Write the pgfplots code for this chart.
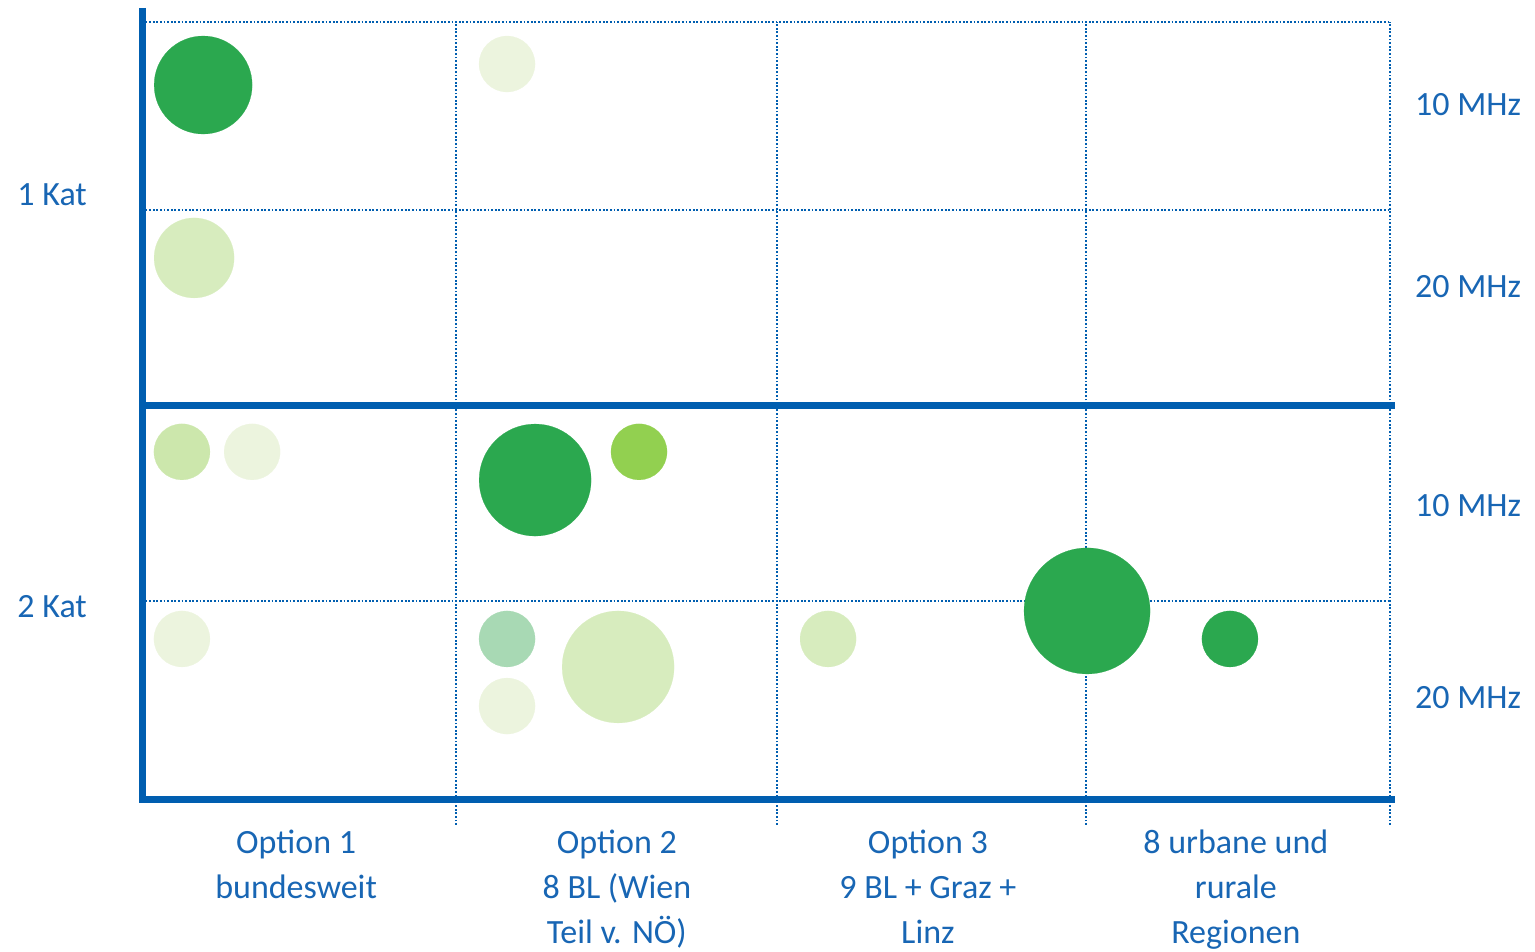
\documentclass[border=0pt]{standalone}
\usepackage{pgfplots}
\pgfplotsset{compat=1.18}
\usepackage{fontspec}
\setmainfont{Carlito}

\definecolor{kblue}{RGB}{0,94,176}
\definecolor{ktext}{RGB}{24,102,180}
\definecolor{dgreen}{RGB}{43,168,79}
\definecolor{lgreen}{RGB}{146,208,80}
\definecolor{pale}{RGB}{236,244,222}
\definecolor{light}{RGB}{215,236,190}
\definecolor{medium}{RGB}{204,231,172}
\definecolor{teal}{RGB}{168,217,180}

\pgfplotsset{
  bubble/.style={only marks, scatter, mark=*,
    scatter/use mapped color={draw=#1, fill=#1, line width=0.1pt},
    visualization depends on={\thisrow{r} \as \rad},
    scatter/@pre marker code/.append style={/tikz/mark size=\rad pt},
    mark options={draw=#1, fill=#1, line width=0.1pt}},
}
\tikzset{lab/.style={font=\fontsize{17}{22.5}\selectfont, text=ktext, inner sep=0pt}}

\begin{document}
\begin{tikzpicture}
\begin{axis}[
  at={(71pt,76pt)}, anchor=south west,
  scale only axis, width=624pt, height=389pt,
  xmin=0, xmax=4, ymin=0, ymax=4,
  clip=false,
  axis line style={draw=none},
  xtick={1.006,2.035,3.026,4}, ytick={1.023,3.033,4},
  xticklabels={,,,}, yticklabels={,,},
  xtick pos=lower, xtick align=outside, major tick length=12.5pt,
  x tick style={kblue, line width=0.9pt, dash pattern=on 0.9pt off 0.9pt},
  y tick style={draw=none},
  grid=major,
  major grid style={kblue, line width=0.9pt, dash pattern=on 0.9pt off 0.9pt},
]

% dark green, solid
\addplot[bubble=dgreen] table {
x     y     r
0.196 3.676 24.5
1.260 1.645 28
3.029 0.972 31.5
3.487 0.828 14
};
% light green, solid
\addplot[bubble=lgreen] table {
x     y     r
1.593 1.790 14
};
% very light, patterned
\addplot[bubble=pale] table {
x     y     r
1.170 3.784 14
0.353 1.790 14
0.128 0.828 14
1.170 0.483 14
};
% light, patterned
\addplot[bubble=light] table {
x     y     r
0.167 2.787 20
1.526 0.684 28
2.199 0.828 14
};
\addplot[bubble=medium] table {
x     y     r
0.128 1.790 14
};
\addplot[bubble=teal] table {
x     y     r
1.170 0.828 14
};

% thick frame lines
\draw[kblue, line width=3.5pt] (axis cs:0,4.072) -- (axis cs:0,0) -- (axis cs:4.016,0);
\draw[kblue, line width=3.5pt] (axis cs:0,2.026) -- (axis cs:4.016,2.026);

% row labels
\node[lab, anchor=base] at (axis cs:-0.288,3.054) {1 Kat};
\node[lab, anchor=base] at (axis cs:-0.288,0.936) {2 Kat};
\node[lab, anchor=base] at (axis cs:4.25,3.517) {10 MHz};
\node[lab, anchor=base] at (axis cs:4.25,2.586) {20 MHz};
\node[lab, anchor=base] at (axis cs:4.25,1.460) {10 MHz};
\node[lab, anchor=base] at (axis cs:4.25,0.468) {20 MHz};

% column labels
\node[lab, anchor=base] at (axis cs:0.494,-0.275) {\begin{tabular}[t]{@{}c@{}}Option 1\\bundesweit\end{tabular}};
\node[lab, anchor=base] at (axis cs:1.522,-0.275) {\begin{tabular}[t]{@{}c@{}}Option 2\\8 BL (Wien\\Teil v. NÖ)\end{tabular}};
\node[lab, anchor=base] at (axis cs:2.519,-0.275) {\begin{tabular}[t]{@{}c@{}}Option 3\\9 BL + Graz +\\Linz\end{tabular}};
\node[lab, anchor=base] at (axis cs:3.506,-0.275) {\begin{tabular}[t]{@{}c@{}}8 urbane und\\rurale\\Regionen\end{tabular}};
\end{axis}
\pgfresetboundingbox
\path[use as bounding box] (0,0) rectangle (767.5pt,476pt);
\end{tikzpicture}
\end{document}
